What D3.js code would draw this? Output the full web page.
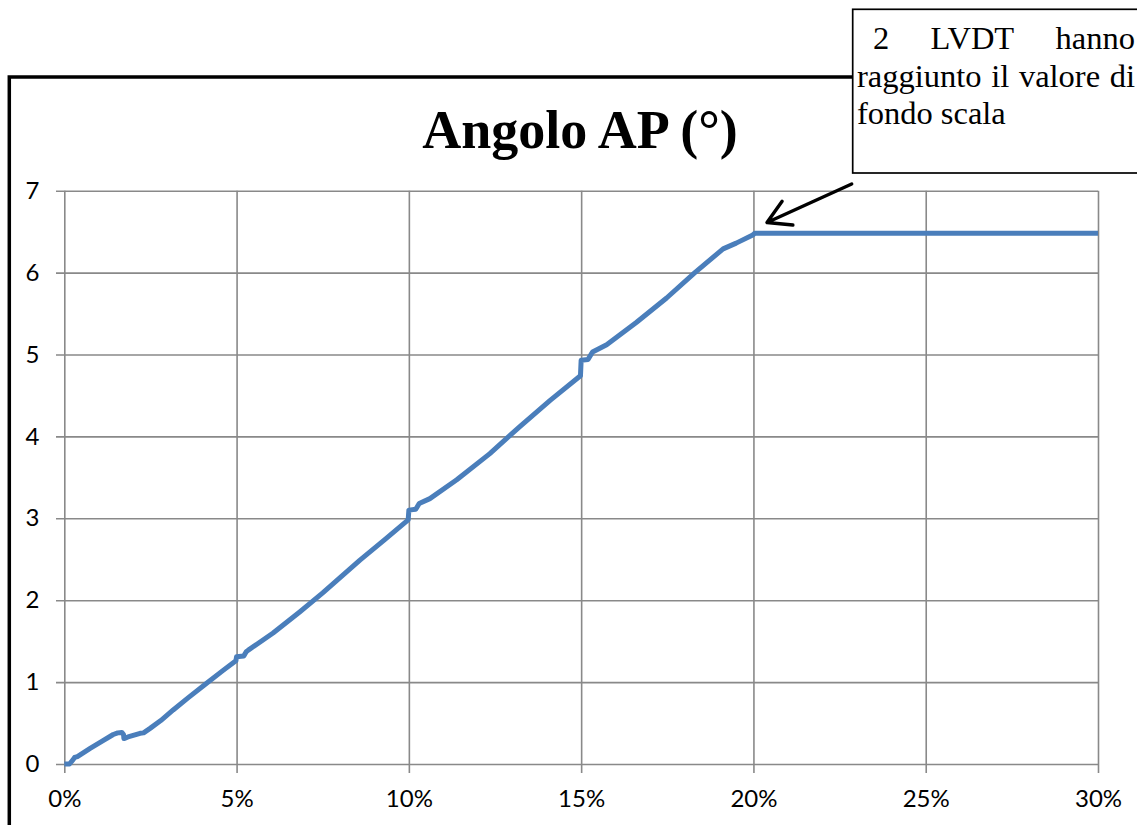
<!DOCTYPE html>
<html>
<head>
<meta charset="utf-8">
<script src="https://cdn.jsdelivr.net/npm/d3@7"></script>
<style>
  body { margin: 0; background: #fff; }
  svg { display: block; }
</style>
</head>
<body>
<svg width="1137" height="825"></svg>
<script>
// strain (fraction) vs angle AP (degrees)
const strain = [0.0000, 0.0015, 0.0025, 0.0030, 0.0038, 0.0075, 0.0110, 0.0142, 0.0155, 0.0167,
  0.0172, 0.0173, 0.0185, 0.0220, 0.0230, 0.0249, 0.0280, 0.0316, 0.0360, 0.0413,
  0.0460, 0.0498, 0.0500, 0.0521, 0.0528, 0.0534, 0.0606, 0.0684, 0.0750, 0.0858,
  0.0930, 0.0998, 0.1000, 0.1020, 0.1030, 0.1061, 0.1139, 0.1235, 0.1322, 0.1410,
  0.1498, 0.1500, 0.1520, 0.1533, 0.1574, 0.1660, 0.1748, 0.1830, 0.1912, 0.1950,
  0.1998, 0.2004, 0.2500, 0.3000]
const angle = [0.00, 0.00, 0.05, 0.08, 0.09, 0.19, 0.28, 0.36, 0.38, 0.385,
  0.36, 0.31, 0.33, 0.375, 0.38, 0.435, 0.53, 0.66, 0.81, 0.985,
  1.14, 1.26, 1.31, 1.32, 1.37, 1.39, 1.60, 1.86, 2.09, 2.49,
  2.74, 2.98, 3.10, 3.11, 3.18, 3.24, 3.47, 3.79, 4.12, 4.44,
  4.74, 4.93, 4.94, 5.03, 5.12, 5.39, 5.69, 6.00, 6.29, 6.36,
  6.46, 6.48, 6.48, 6.48]

const xTicks = [0, 0.05, 0.10, 0.15, 0.20, 0.25, 0.30]
const yTicks = [0, 1, 2, 3, 4, 5, 6, 7]
const title = 'Angolo AP (°)'
const noteLines = [
  ['2', 'LVDT', 'hanno'],
  ['raggiunto', 'il', 'valore', 'di'],
  ['fondo', 'scala']
]

const svg = d3.select('svg')
const plotLeft = 64.3, plotRight = 1098, plotTop = 190.7, plotBottom = 764

const x = d3.scaleLinear().domain([0, 0.30]).range([plotLeft, plotRight])
const y = d3.scaleLinear().domain([0, 7]).range([plotBottom, plotTop])

const tickFont = 'Lato, "Open Sans", sans-serif'

// outer chart border (runs off the picture to the right and bottom)
svg.append('rect')
  .attr('x', 9.3).attr('y', 77)
  .attr('width', 1300).attr('height', 900)
  .attr('fill', 'none')
  .attr('stroke', '#000')
  .attr('stroke-width', 3.5)

// y axis + horizontal gridlines
const yAxis = svg.append('g')
  .attr('transform', 'translate(' + plotLeft + ',0)')
  .call(d3.axisLeft(y).tickValues(yTicks).tickFormat(d3.format('d'))
    .tickSizeInner(-(plotRight - plotLeft)).tickSizeOuter(0).tickPadding(25))
yAxis.select('.domain').remove()
yAxis.selectAll('.tick line')
  .attr('x1', -8.3)
  .attr('stroke', '#898989')
  .attr('stroke-width', 1.6)
yAxis.selectAll('.tick text')
  .attr('font-family', tickFont)
  .attr('font-size', 24)
  .attr('fill', '#000')

// x axis + vertical gridlines
const xAxis = svg.append('g')
  .attr('transform', 'translate(0,' + plotBottom + ')')
  .call(d3.axisBottom(x).tickValues(xTicks).tickFormat(d3.format('.0%'))
    .tickSizeInner(-(plotBottom - plotTop)).tickSizeOuter(0))
xAxis.select('.domain').remove()
xAxis.selectAll('.tick line')
  .attr('y1', 9)
  .attr('stroke', '#898989')
  .attr('stroke-width', 1.6)
xAxis.selectAll('.tick text')
  .attr('y', 43)
  .attr('dy', null)
  .attr('font-family', tickFont)
  .attr('font-size', 24)
  .attr('fill', '#000')

// data line
const line = d3.line()
  .x((d, i) => x(strain[i]))
  .y(d => y(d))

svg.append('path')
  .datum(angle)
  .attr('d', line)
  .attr('fill', 'none')
  .attr('stroke', '#4a7ebb')
  .attr('stroke-width', 5)
  .attr('stroke-linejoin', 'round')
  .attr('stroke-linecap', 'butt')

// title
svg.append('text')
  .attr('x', 580).attr('y', 148)
  .attr('text-anchor', 'middle')
  .attr('font-family', '"Liberation Serif", "Times New Roman", serif')
  .attr('font-weight', 'bold')
  .attr('font-size', 54)
  .text(title)

// annotation box
svg.append('rect')
  .attr('x', 852.7).attr('y', 9.3)
  .attr('width', 400).attr('height', 163.7)
  .attr('fill', '#fff')
  .attr('stroke', '#000')
  .attr('stroke-width', 1.7)

const note = svg.append('g')
  .attr('font-family', '"Liberation Serif", "Times New Roman", serif')
  .attr('font-size', 32.5)
  .attr('fill', '#000')

const lineStart = [873, 857, 857]
const lineEnd = 1135
noteLines.forEach((words, li) => {
  const yy = 49 + li * 37.5
  const nodes = words.map(w => note.append('text').attr('y', yy).text(w))
  const widths = nodes.map(n => n.node().getComputedTextLength())
  const total = d3.sum(widths)
  // last line is left aligned, others justified
  const gap = li < noteLines.length - 1
    ? (lineEnd - lineStart[li] - total) / (words.length - 1)
    : 8
  let cx = lineStart[li]
  nodes.forEach((n, i) => {
    n.attr('x', cx)
    cx += widths[i] + gap
  })
})

// arrow
const tail = [851.7, 184], tip = [767, 222.5]
const ang = Math.atan2(tail[1] - tip[1], tail[0] - tip[0])
const headLen = 26, spread = Math.PI / 6
const arm1 = [tip[0] + headLen * Math.cos(ang - spread), tip[1] + headLen * Math.sin(ang - spread)]
const arm2 = [tip[0] + headLen * Math.cos(ang + spread), tip[1] + headLen * Math.sin(ang + spread)]

svg.append('path')
  .attr('d', 'M' + tail + 'L' + tip + 'M' + arm1 + 'L' + tip + 'L' + arm2)
  .attr('fill', 'none')
  .attr('stroke', '#000')
  .attr('stroke-width', 3.4)
  .attr('stroke-linecap', 'round')
  .attr('stroke-linejoin', 'round')
</script>
</body>
</html>
